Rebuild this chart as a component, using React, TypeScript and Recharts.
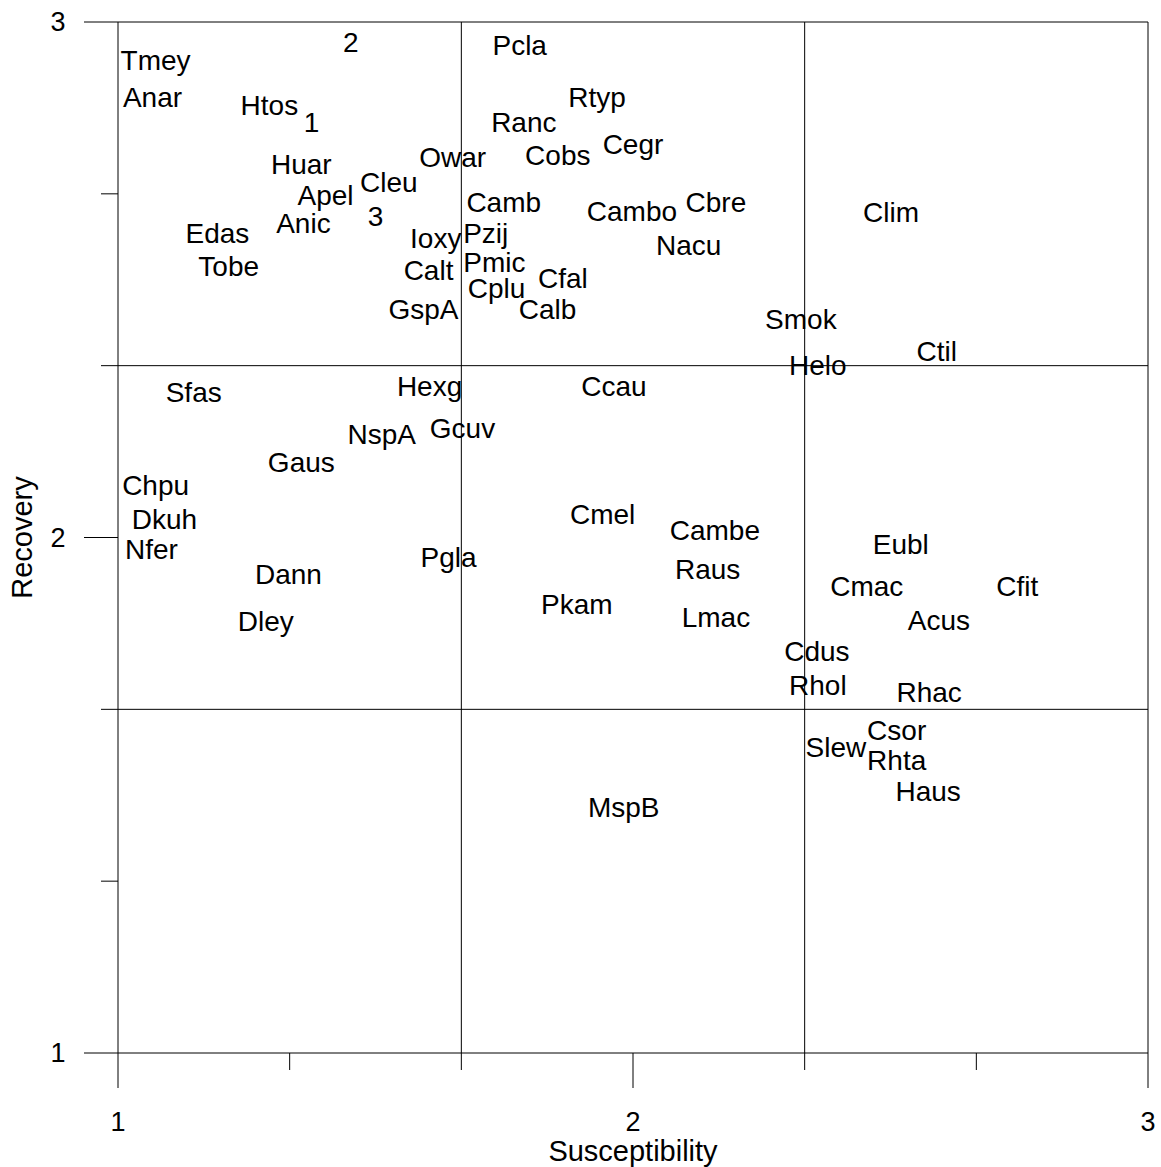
import { ScatterChart, Scatter, XAxis, YAxis, ReferenceLine } from "recharts";

// species codes plotted as text labels
const labels = [
  "2", "Tmey", "Anar", "Htos", "1", "Pcla", "Rtyp", "Ranc", "Cegr", "Owar",
  "Cobs", "Huar", "Cleu", "Apel", "Camb", "Cambo", "Cbre", "Clim", "3", "Anic",
  "Edas", "Ioxy", "Pzij", "Nacu", "Tobe", "Pmic", "Calt", "Cfal", "Cplu", "GspA",
  "Calb", "Smok", "Ctil", "Helo", "Sfas", "Hexg", "Ccau", "NspA", "Gcuv", "Gaus",
  "Chpu", "Dkuh", "Cmel", "Cambe", "Eubl", "Nfer", "Pgla", "Raus", "Dann", "Cmac",
  "Cfit", "Pkam", "Lmac", "Acus", "Dley", "Cdus", "Rhol", "Rhac", "Csor", "Slew",
  "Rhta", "Haus", "MspB",
];

const susceptibility = [
  1.452, 1.073, 1.067, 1.294, 1.376, 1.78, 1.93, 1.788, 2.0, 1.65,
  1.854, 1.356, 1.526, 1.403, 1.749, 1.998, 2.161, 2.501, 1.5, 1.36,
  1.193, 1.617, 1.714, 2.108, 1.215, 1.731, 1.603, 1.864, 1.735, 1.593,
  1.834, 2.326, 2.59, 2.359, 1.147, 1.605, 1.963, 1.512, 1.669, 1.356,
  1.073, 1.09, 1.941, 2.159, 2.52, 1.065, 1.642, 2.145, 1.331, 2.454,
  2.746, 1.891, 2.161, 2.594, 1.287, 2.357, 2.359, 2.575, 2.512, 2.394,
  2.512, 2.573, 1.982,
];

const recovery = [
  2.961, 2.926, 2.855, 2.839, 2.806, 2.955, 2.855, 2.806, 2.763, 2.738,
  2.742, 2.725, 2.69, 2.664, 2.651, 2.633, 2.651, 2.631, 2.624, 2.61,
  2.591, 2.581, 2.591, 2.567, 2.527, 2.534, 2.519, 2.503, 2.484, 2.443,
  2.443, 2.424, 2.362, 2.335, 2.282, 2.294, 2.294, 2.201, 2.212, 2.146,
  2.102, 2.036, 2.046, 2.015, 1.987, 1.978, 1.962, 1.939, 1.929, 1.906,
  1.906, 1.871, 1.846, 1.84, 1.838, 1.78, 1.714, 1.7, 1.627, 1.594,
  1.568, 1.508, 1.477,
];

const axisTicks = [1, 4 / 3, 5 / 3, 2, 7 / 3, 8 / 3, 3];
const labelledTicks = [1, 2, 3];
const thirds = [5 / 3, 7 / 3];

const data = labels.map((name, i) => ({
  name,
  x: susceptibility[i],
  y: recovery[i],
}));

const FONT = "'Liberation Sans', Arial, sans-serif";

const isMajor = (v: number) => labelledTicks.some((t) => Math.abs(t - v) < 1e-6);

function YTick(props: any) {
  const { x, y, payload } = props;
  const major = isMajor(payload.value);
  return (
    <g>
      <line x1={x - (major ? 34 : 17)} x2={x} y1={y} y2={y} stroke="#000" strokeWidth={1} />
      {major && (
        <text x={x - 60} y={y} dy="0.35em" textAnchor="middle" fontSize={27} fontFamily={FONT} fill="#000">
          {Math.round(payload.value)}
        </text>
      )}
    </g>
  );
}

function XTick(props: any) {
  const { x, y, payload } = props;
  const major = isMajor(payload.value);
  return (
    <g>
      <line x1={x} x2={x} y1={y} y2={y + (major ? 35 : 17)} stroke="#000" strokeWidth={1} />
      {major && (
        <text x={x} y={y + 69} dy="0.35em" textAnchor="middle" fontSize={27} fontFamily={FONT} fill="#000">
          {Math.round(payload.value)}
        </text>
      )}
    </g>
  );
}

function NameMark(props: any) {
  const { cx, cy, payload } = props;
  return (
    <text x={cx} y={cy} dy="0.35em" textAnchor="middle" fontSize={28} fontFamily={FONT} fill="#000">
      {payload.name}
    </text>
  );
}

export default function App() {
  return (
    <div style={{ width: 1161, height: 1167, background: "#fff", overflow: "hidden" }}>
      <style>{"body { margin: 0; }"}</style>
      <ScatterChart width={1161} height={1167} margin={{ top: 22, right: 13, left: 0, bottom: 0 }}>
        <XAxis
          type="number"
          dataKey="x"
          domain={[1, 3]}
          ticks={axisTicks}
          allowDataOverflow
          height={114}
          tickSize={0}
          tickMargin={0}
          tick={<XTick />}
          axisLine={{ stroke: "#000" }}
          tickLine={false}
          interval={0}
          label={{ value: "Susceptibility", position: "insideBottom", offset: 6, fontSize: 29, fontFamily: FONT, fill: "#000" }}
        />
        <YAxis
          type="number"
          dataKey="y"
          domain={[1, 3]}
          ticks={axisTicks}
          allowDataOverflow
          width={118}
          tickSize={0}
          tickMargin={0}
          tick={<YTick />}
          axisLine={{ stroke: "#000" }}
          tickLine={false}
          interval={0}
          label={{ value: "Recovery", angle: -90, position: "insideLeft", offset: 22, fontSize: 29, fontFamily: FONT, fill: "#000", style: { textAnchor: "middle" } }}
        />
        {thirds.map((v) => (
          <ReferenceLine key={`vx${v}`} x={v} stroke="#000" strokeWidth={1} />
        ))}
        {thirds.map((v) => (
          <ReferenceLine key={`hy${v}`} y={v} stroke="#000" strokeWidth={1} />
        ))}
        <ReferenceLine x={3} stroke="#000" strokeWidth={1} />
        <ReferenceLine y={3} stroke="#000" strokeWidth={1} />
        <Scatter data={data} isAnimationActive={false} shape={<NameMark />} />
      </ScatterChart>
    </div>
  );
}
